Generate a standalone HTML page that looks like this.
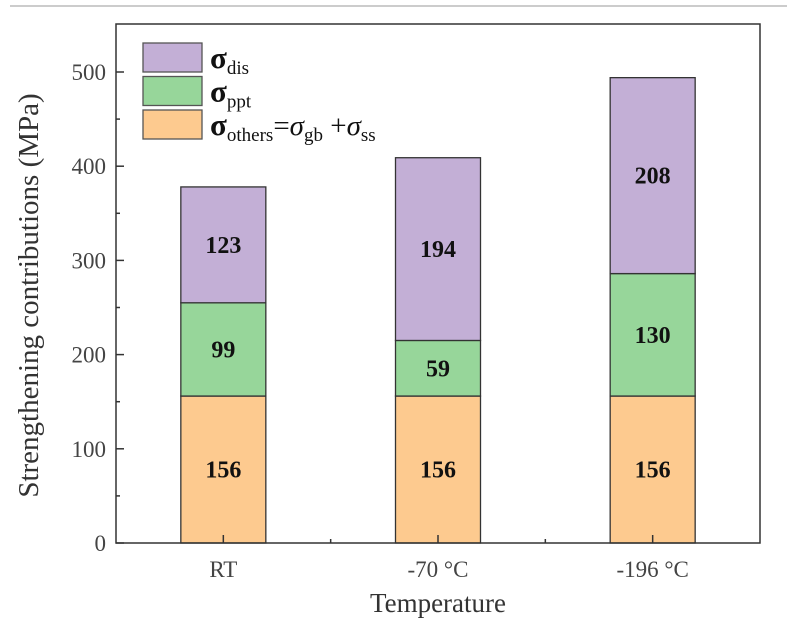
<!DOCTYPE html>
<html><head><meta charset="utf-8"><style>
body{margin:0;background:#fff;}
svg text{font-family:"Liberation Serif",serif;}
</style></head><body>
<svg width="787" height="626" viewBox="0 0 787 626">
<line x1="10" y1="6" x2="787" y2="6" stroke="#ccc" stroke-width="2"/>
<g id="plot"></g>
</svg>
<script>
const categories = ["RT", "-70 \u00B0C", "-196 \u00B0C"];
const others = [156, 156, 156];
const ppt = [99, 59, 130];
const dis = [123, 194, 208];
const yTicks = [0, 100, 200, 300, 400, 500];

const L=116,R=760,T=24,B=543;
const y = v => B - v*0.942;
const x = i => L + (i+0.5)*(R-L)/categories.length;
const bw = 85;
const NS='http://www.w3.org/2000/svg';
const g=document.getElementById('plot');
function mk(tag,attrs,parent){const e=document.createElementNS(NS,tag);for(const k in attrs)e.setAttribute(k,attrs[k]);(parent||g).appendChild(e);return e;}

const colors={others:'#fdca8f',ppt:'#97d69a',dis:'#c3afd6'};
const series=[['others',others],['ppt',ppt],['dis',dis]];
categories.forEach((c,i)=>{
  let base=0;
  series.forEach(([name,vals])=>{
    const v=vals[i];
    const r=mk('rect',{x:x(i)-bw/2,y:y(base+v),width:bw,height:y(base)-y(base+v),fill:colors[name],stroke:'#333','stroke-width':1.3});
    
    
    const t=mk('text',{x:x(i),y:y(base+v/2)+8,'text-anchor':'middle','font-size':24,'font-weight':'bold',fill:'#111'});
    t.textContent=v;
    
    
    base+=v;
  });
});

const f=mk('rect',{x:L,y:T,width:R-L,height:B-T,fill:'none',stroke:'#333','stroke-width':1.5});



yTicks.forEach(v=>{
  mk('line',{x1:L,x2:L+8,y1:y(v),y2:y(v),stroke:'#333','stroke-width':1.5});
  if(v<500) mk('line',{x1:L,x2:L+4,y1:y(v+50),y2:y(v+50),stroke:'#333','stroke-width':1.5});
  const t=mk('text',{x:L-10,y:y(v)+8,'text-anchor':'end','font-size':23,fill:'#444'});
  t.textContent=v;
  
  
});
categories.forEach((c,i)=>{
  mk('line',{x1:x(i),x2:x(i),y1:B,y2:B-8,stroke:'#333','stroke-width':1.5});
  if(i>0) mk('line',{x1:x(i-0.5),x2:x(i-0.5),y1:B,y2:B-4,stroke:'#333','stroke-width':1.5});
  const t=mk('text',{x:x(i),y:B+34,'text-anchor':'middle','font-size':23,fill:'#444'});
  t.textContent=c;
  
  
});
const xt=mk('text',{x:(L+R)/2,y:612,'text-anchor':'middle','font-size':27,fill:'#333'});
xt.textContent='Temperature';


const yt=mk('text',{x:0,y:0,'text-anchor':'middle','font-size':29,fill:'#333',transform:'translate(38,'+((T+B)/2+12)+') rotate(-90)'});
yt.textContent='Strengthening contributions (MPa)';



const leg=[['dis','dis'],['ppt','ppt'],['others','others']];
leg.forEach(([k,sub],j)=>{
  const yy=43+j*33.5;
  const r=mk('rect',{x:143,y:yy,width:59,height:29,fill:colors[k],stroke:'#555','stroke-width':1.3});
  
  
  const t=mk('text',{x:210,y:yy+25,'font-size':31,'font-weight':'bold',fill:'#111'});
  
  
  let html='σ<tspan font-size="19" font-weight="normal" dy="6">'+sub+'</tspan>';
  if(k==='others') html+='<tspan dy="-6" font-weight="normal" font-size="29">=</tspan><tspan font-style="italic" font-weight="normal" font-size="29">σ</tspan><tspan font-size="19" font-weight="normal" dy="6">gb</tspan><tspan dy="-6" font-weight="normal" font-size="29"> +</tspan><tspan font-style="italic" font-weight="normal" font-size="29">σ</tspan><tspan font-size="19" font-weight="normal" dy="6">ss</tspan>';
  t.innerHTML=html;
});
</script>
</body></html>
